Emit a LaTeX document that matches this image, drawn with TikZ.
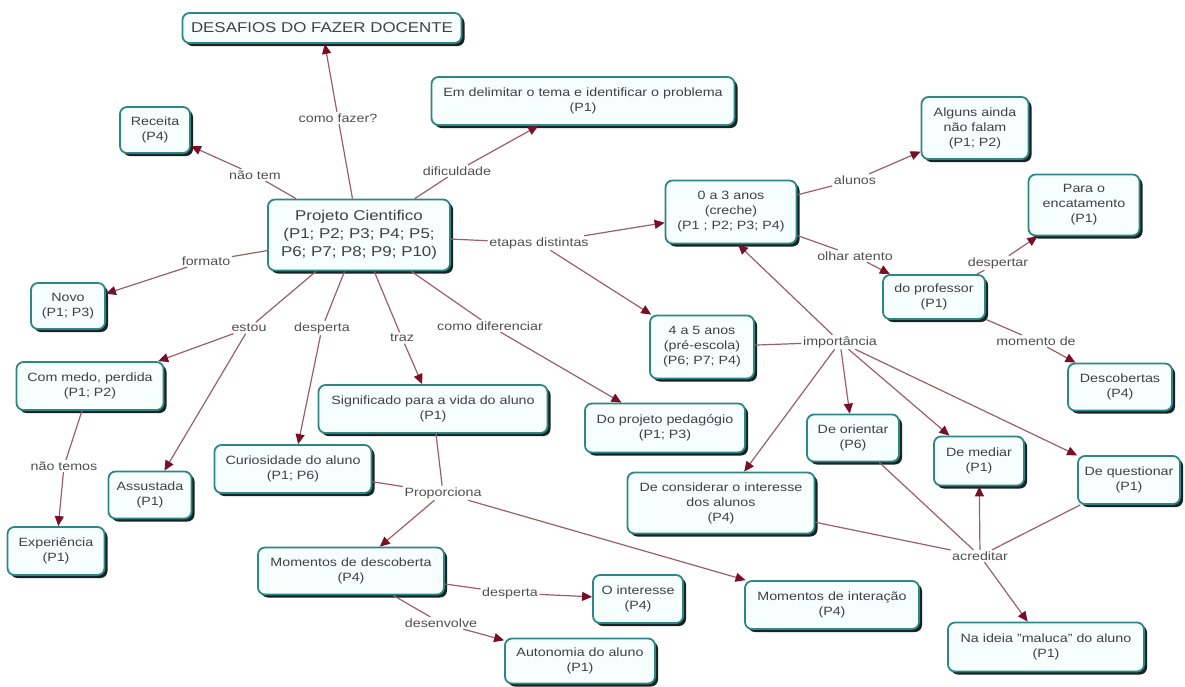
\documentclass[tikz,border=0pt]{standalone}
\usepackage{fontspec}
\setmainfont{Liberation Sans}[FakeStretch=1.19]
\usetikzlibrary{arrows.meta,shadows}
\definecolor{cborder}{RGB}{45,135,135}
\definecolor{cfill}{RGB}{246,254,254}
\definecolor{shadowc}{RGB}{25,35,35}
\definecolor{ctext}{RGB}{65,65,65}
\definecolor{ltext}{RGB}{80,80,80}
\definecolor{lcol}{RGB}{155,95,105}
\definecolor{acol}{RGB}{120,15,40}
\newcommand{\mycfont}{\fontsize{12}{15}\selectfont}
\newcommand{\mybigfont}{\fontsize{14.2}{18}\selectfont}
\tikzset{
  concept/.style={draw=cborder, fill=cfill, line width=1.8pt, rounded corners=7pt,
    align=center, inner sep=2pt, font=\mycfont, text=ctext,
    drop shadow={shadow xshift=3pt, shadow yshift=-3pt, fill=shadowc, opacity=1}},
  bigconcept/.style={concept, font=\mybigfont},
  lnk/.style={font=\mycfont, text=ltext, inner sep=1.5pt},
  con/.style={draw=lcol, line width=1.2pt},
  arr/.style={con, -{Triangle[length=10pt,width=9pt,color=acol]}},
}
\begin{document}
\begin{tikzpicture}[x=1pt,y=-1pt]
\fill[white] (0,0) rectangle (1185,686);
\useasboundingbox (0,0) rectangle (1185,686);
% concepts
\node[bigconcept, minimum width=279pt, minimum height=30pt] (desafios) at (322,28) {DESAFIOS DO FAZER DOCENTE};
\node[concept, minimum width=70pt, minimum height=46pt] (receita) at (155,130) {Receita\\(P4)};
\node[concept, minimum width=303pt, minimum height=48pt] (delim) at (583,101) {Em delimitar o tema e identificar o problema\\(P1)};
\node[bigconcept, minimum width=182pt, minimum height=71pt] (projeto) at (359,235) {Projeto Cientifico\\(P1; P2; P3; P4; P5;\\P6; P7; P8; P9; P10)};
\node[concept, minimum width=107pt, minimum height=62pt] (alguns) at (975,128) {Alguns ainda\\não falam\\(P1; P2)};
\node[concept, minimum width=131pt, minimum height=63pt] (zero) at (731,212) {0 a 3 anos\\(creche)\\(P1 ; P2; P3; P4)};
\node[concept, minimum width=111pt, minimum height=61pt] (encanto) at (1084,205) {Para o\\encatamento\\(P1)};
\node[concept, minimum width=102pt, minimum height=44pt] (prof) at (934,297) {do professor\\(P1)};
\node[concept, minimum width=74pt, minimum height=46pt] (novo) at (68,306) {Novo\\(P1; P3)};
\node[concept, minimum width=104pt, minimum height=63pt] (quatro) at (702,347) {4 a 5 anos\\(pré-escola)\\(P6; P7; P4)};
\node[concept, minimum width=104pt, minimum height=47pt] (descob) at (1120,387) {Descobertas\\(P4)};
\node[concept, minimum width=147pt, minimum height=48pt] (medo) at (90,386) {Com medo, perdida\\(P1; P2)};
\node[concept, minimum width=229pt, minimum height=48pt] (signif) at (433,409) {Significado para a vida do aluno\\(P1)};
\node[concept, minimum width=160pt, minimum height=49pt] (pedag) at (665,428) {Do projeto pedagógio\\(P1; P3)};
\node[concept, minimum width=92pt, minimum height=47pt] (orient) at (853,438) {De orientar\\(P6)};
\node[concept, minimum width=90pt, minimum height=49pt] (mediar) at (979,461) {De mediar\\(P1)};
\node[concept, minimum width=157pt, minimum height=48pt] (curios) at (293,469) {Curiosidade do aluno\\(P1; P6)};
\node[concept, minimum width=83pt, minimum height=47pt] (assust) at (150,495) {Assustada\\(P1)};
\node[concept, minimum width=187pt, minimum height=61pt] (consid) at (721,503) {De considerar o interesse\\dos alunos\\(P4)};
\node[concept, minimum width=102pt, minimum height=48pt] (quest) at (1129,480) {De questionar\\(P1)};
\node[concept, minimum width=97pt, minimum height=48pt] (exper) at (56,551) {Experiência\\(P1)};
\node[concept, minimum width=186pt, minimum height=47pt] (momdesc) at (351,571) {Momentos de descoberta\\(P4)};
\node[concept, minimum width=90pt, minimum height=48pt] (interesse) at (638,599) {O interesse\\(P4)};
\node[concept, minimum width=174pt, minimum height=48pt] (interac) at (832,605) {Momentos de interação\\(P4)};
\node[concept, minimum width=196pt, minimum height=49pt] (maluca) at (1046,647) {Na ideia "maluca" do aluno\\(P1)};
\node[concept, minimum width=150pt, minimum height=45pt] (auton) at (580,661) {Autonomia do aluno\\(P1)};
% linking phrases
\node[lnk] (comofazer) at (338,118) {como fazer?};
\node[lnk] (naotem) at (255,175) {não tem};
\node[lnk] (dific) at (457,171) {dificuldade};
\node[lnk] (formato) at (206,261) {formato};
\node[lnk] (etapas) at (539,243) {etapas distintas};
\node[lnk] (alunos) at (855,180) {alunos};
\node[lnk] (olhar) at (855,256) {olhar atento};
\node[lnk] (despertar) at (998,263) {despertar};
\node[lnk] (import) at (840,342) {importância};
\node[lnk] (momento) at (1036,341) {momento de};
\node[lnk] (estou) at (249,328) {estou};
\node[lnk] (desperta1) at (322,328) {desperta};
\node[lnk] (traz) at (402,338) {traz};
\node[lnk] (comodif) at (490,326) {como diferenciar};
\node[lnk] (naotemos) at (64,466) {não temos};
\node[lnk] (proporc) at (443,493) {Proporciona};
\node[lnk] (acred) at (980,556) {acreditar};
\node[lnk] (desperta2) at (510,593) {desperta};
\node[lnk] (desenv) at (441,623) {desenvolve};
% connectors
\draw[con] (projeto) -- (comofazer); \draw[arr] (comofazer) -- (desafios);
\draw[con] (projeto) -- (naotem); \draw[arr] (naotem) -- (receita);
\draw[con] (projeto) -- (dific); \draw[arr] (dific) -- (delim);
\draw[con] (projeto) -- (formato); \draw[arr] (formato) -- (novo);
\draw[con] (projeto) -- (etapas); \draw[arr] (etapas) -- (zero); \draw[arr] (etapas) -- (quatro);
\draw[con] (zero) -- (alunos); \draw[arr] (alunos) -- (alguns);
\draw[con] (zero) -- (olhar); \draw[arr] (olhar) -- (prof);
\draw[con] (prof) -- (despertar); \draw[arr] (despertar) -- (encanto);
\draw[con] (prof) -- (momento); \draw[arr] (momento) -- (descob);
\draw[con] (quatro) -- (import);
\draw[arr] (import) -- ([xshift=7pt]zero.south);
\draw[arr] (import) -- (consid);
\draw[arr] (import) -- (orient);
\draw[arr] (import) -- (mediar);
\draw[arr] (import) -- (quest);
\draw[con] (projeto) -- (estou); \draw[arr] (estou) -- (medo); \draw[arr] (estou) -- (assust);
\draw[con] (projeto) -- (desperta1); \draw[arr] (desperta1) -- (curios);
\draw[con] (projeto) -- (traz); \draw[arr] (traz) -- (signif);
\draw[con] (projeto) -- (comodif); \draw[arr] (comodif) -- (pedag);
\draw[con] (medo) -- (naotemos); \draw[arr] (naotemos) -- (exper);
\draw[con] (signif) -- (proporc); \draw[con] (curios) -- (proporc);
\draw[arr] (proporc) -- (momdesc); \draw[arr] (proporc) -- (interac);
\draw[con] (consid) -- (acred); \draw[con] (orient) -- (acred); \draw[con] (quest) -- (acred);
\draw[arr] (acred) -- (mediar); \draw[arr] (acred) -- (maluca);
\draw[con] (momdesc) -- (desperta2); \draw[arr] (desperta2) -- (interesse);
\draw[con] (momdesc) -- (desenv); \draw[arr] (desenv) -- (auton);
\end{tikzpicture}
\end{document}
